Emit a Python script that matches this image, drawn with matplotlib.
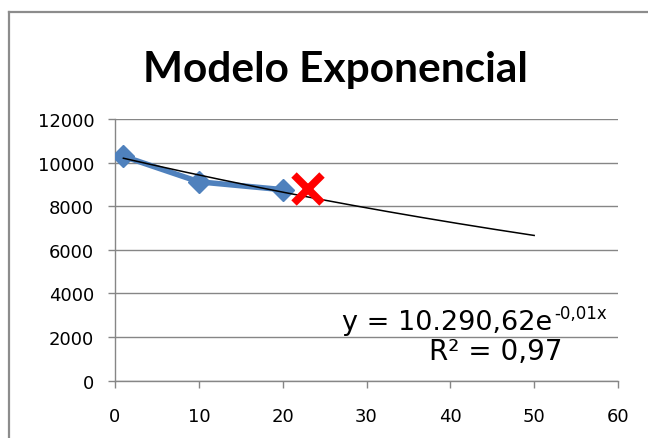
import numpy as np
import matplotlib
matplotlib.use('Agg')
import matplotlib.pyplot as plt
from matplotlib.lines import Line2D

# data
x_data = [1, 10, 20]
y_data = [10290, 9120, 8760]
x_pred = [23]
y_pred = [8800]

# exponential trendline y = a*exp(b*x), shown from x=1 to x=50
trend_a = 10290.62
trend_b = -0.0087
trend_x0, trend_x1 = 1, 50

x_ticks = [0, 10, 20, 30, 40, 50, 60]
y_ticks = [0, 2000, 4000, 6000, 8000, 10000, 12000]

title = 'Modelo Exponencial'
eq_main = 'y = 10.290,62e'
eq_sup = '-0,01x'
r2_text = 'R² = 0,97'

W, H = 648, 439
fig = plt.figure(figsize=(W / 100, H / 100), dpi=100)
ax = fig.add_axes([115 / W, 1 - 381.7 / H, (618 - 115) / W, (381.7 - 120) / H])

gray = '#868686'

xt = np.linspace(trend_x0, trend_x1, 200)
ax.plot(x_data, y_data, color='#4F81BD', lw=4, marker='D', markersize=11,
        solid_capstyle='round', zorder=3)
ax.plot(xt, trend_a * np.exp(trend_b * xt), color='black', lw=1.1, zorder=4)
ax.plot(x_pred, y_pred, linestyle='none', marker='x', color='#FF0000',
        markersize=20, markeredgewidth=5.5, zorder=5)

ax.set_xlim(0, 60)
ax.set_ylim(0, 12000)
ax.set_xticks(x_ticks)
ax.set_yticks(y_ticks)
ax.set_xticklabels([str(v) for v in x_ticks])
ax.set_yticklabels([str(v) for v in y_ticks])
ax.grid(axis='y', color=gray, lw=1)
ax.set_axisbelow(True)
for s in ['top', 'right']:
    ax.spines[s].set_visible(False)
for s in ['left', 'bottom']:
    ax.spines[s].set_color(gray)
    ax.spines[s].set_linewidth(1)
ax.tick_params(axis='both', direction='out', length=5, width=1, color=gray,
               labelsize=13, labelcolor='black')
ax.tick_params(axis='x', pad=14)
ax.tick_params(axis='y', pad=10)

fig.text(335 / W, 1 - 81.7 / H, title, ha='center', va='baseline',
         fontsize=30.5, fontweight='bold', family=['Lato', 'DejaVu Sans'])

fig.text(342 / W, 1 - 330 / H, eq_main, ha='left', va='baseline', fontsize=19.5)
fig.text(554 / W, 1 - 319 / H, eq_sup, ha='left', va='baseline', fontsize=12)
fig.text(496 / W, 1 - 360 / H, r2_text, ha='center', va='baseline', fontsize=20)

# chart frame: only the left and top edges fall inside the picture
frame_x = 9 / W
frame_y = 1 - 13 / H
fig.add_artist(Line2D([frame_x, frame_x], [0, frame_y], transform=fig.transFigure,
                      color='#8c8c8c', lw=1.6))
fig.add_artist(Line2D([frame_x, 1], [frame_y, frame_y], transform=fig.transFigure,
                      color='#8c8c8c', lw=1.6))

fig.savefig('out.png', dpi=100)
